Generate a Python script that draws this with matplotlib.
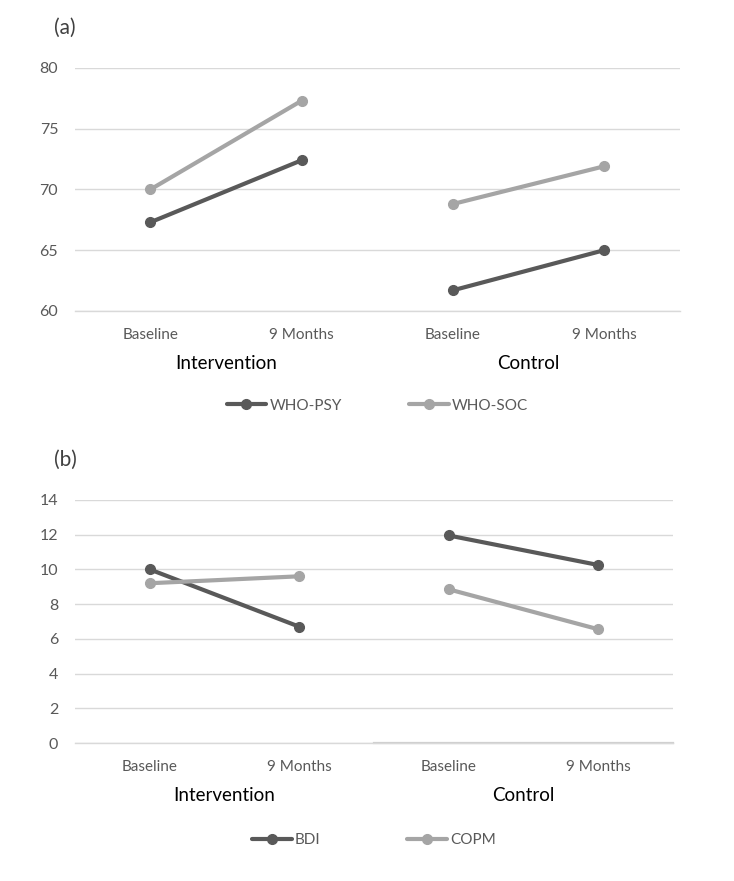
import numpy as np
import matplotlib.pyplot as plt
from matplotlib.transforms import blended_transform_factory

plt.rcParams['font.family'] = ['Lato', 'DejaVu Sans']

# category labels
time_labels = ['Baseline', '9 Months', 'Baseline', '9 Months']
groups = ['Intervention', 'Control']

# panel (a) values
who_psy = [67.3, 72.4, 61.7, 65.0]
who_soc = [70.0, 77.3, 68.8, 71.9]

# panel (b) values
bdi = [10.0, 6.7, 11.95, 10.25]
copm = [9.2, 9.6, 8.85, 6.55]

dark = '#595959'
light = '#a5a5a5'
grid_c = '#d9d9d9'
tick_c = '#595959'

fig = plt.figure(figsize=(7.34, 8.81), dpi=100)


def draw_panel(ax, s1, s2, names, ylim, yticks, tag, leg_y, colsp):
    x = np.arange(len(time_labels))
    for vals, col, name in [(s1, dark, names[0]), (s2, light, names[1])]:
        # separate segments for each group (no connecting line between groups)
        ax.plot(x[:2], vals[:2], color=col, lw=3, marker='o', ms=7, label=name,
                solid_capstyle='round', zorder=3)
        ax.plot(x[2:], vals[2:], color=col, lw=3, marker='o', ms=7,
                solid_capstyle='round', zorder=3)
    ax.set_xlim(-0.5, 3.5)
    ax.set_ylim(*ylim)
    ax.set_yticks(yticks)
    ax.set_xticks(x)
    ax.set_xticklabels(time_labels, fontsize=11, color=tick_c)
    ax.tick_params(axis='y', labelsize=11.5, colors=tick_c, length=0, pad=12)
    ax.tick_params(axis='x', length=0, pad=12)
    ax.grid(axis='y', color=grid_c, lw=1)
    ax.set_axisbelow(True)
    for sp in ax.spines.values():
        sp.set_visible(False)
    # bottom gridline would be clipped at the axes edge
    ax.spines['bottom'].set_visible(True)
    ax.spines['bottom'].set_color(grid_c)
    ax.spines['bottom'].set_linewidth(1)
    tr = blended_transform_factory(ax.transData, ax.transAxes)
    ax.text(0.5, -0.215, groups[0], transform=tr, ha='center', va='center',
            fontsize=13.5, color='black')
    ax.text(2.5, -0.215, groups[1], transform=tr, ha='center', va='center',
            fontsize=13.5, color='black')
    ax.text(-0.035, 1.165, tag, transform=ax.transAxes, ha='left', va='center',
            fontsize=15, color='#404040')
    ax.legend(loc='center', bbox_to_anchor=(0.5, leg_y), ncol=2, frameon=False,
              fontsize=11, handlelength=2.6, handletextpad=0.2, columnspacing=colsp,
              labelcolor=tick_c)


ax1 = fig.add_axes([0.102, 0.647, 0.824, 0.276])
draw_panel(ax1, who_psy, who_soc, ['WHO-PSY', 'WHO-SOC'], (60, 80),
           [60, 65, 70, 75, 80], '(a)', -0.39, 4.4)

ax2 = fig.add_axes([0.102, 0.1566, 0.815, 0.276])
draw_panel(ax2, bdi, copm, ['BDI', 'COPM'], (0, 14),
           [0, 2, 4, 6, 8, 10, 12, 14], '(b)', -0.4, 5.7)
# slightly heavier baseline under the control group
ax2.plot([1.5, 3.5], [0, 0], color='#cfcfcf', lw=1.6, clip_on=False, zorder=1)

fig.savefig('out.png', dpi=100)
